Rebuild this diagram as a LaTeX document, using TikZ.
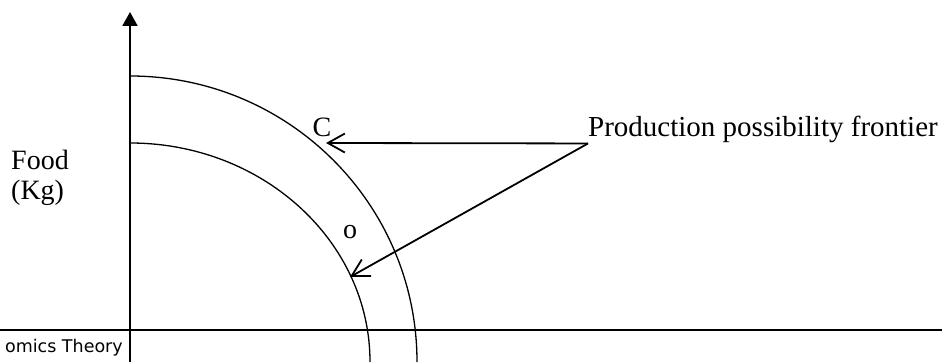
\documentclass[tikz,border=0pt]{standalone}
\usepackage{fontspec}
\setmainfont{Liberation Serif}
\newfontfamily\footerfont{DejaVu Sans}
\usetikzlibrary{arrows.meta}

\begin{document}
\begin{tikzpicture}[x=1pt,y=1pt,
  lbl/.style={font=\fontsize{28}{30}\selectfont,inner sep=0pt},
  axis/.style={line width=2pt},
  ppc/.style={line width=1.3pt},
  a/.style={-{Straight Barb[length=17pt,width=19pt]},line width=1.8pt}]
  \useasboundingbox (0,0) rectangle (942,362);
  % axes
  \coordinate (origin) at (130,0);
  \coordinate (top) at (130,350);
  \draw[axis] (0,32) -- (942,32);
  \draw[axis,-{Triangle[length=14pt,width=15pt]}] (origin) -- (top);
  % frontiers
  \draw[ppc] (130,286) arc[start angle=90,end angle=0,x radius=287,y radius=286];
  \draw[ppc] (130,219) arc[start angle=90,end angle=0,x radius=240,y radius=219];
  % labels
  \node[lbl] (c) at (322,235) {C};
  \node[lbl] (o) at (350,130) {o};
  \node[lbl,anchor=base west,align=left] (food) at (11,163) {Food\\(Kg)};
  \node[lbl,font=\fontsize{29}{30}\selectfont,anchor=base west] (ppf) at (588,225) {Production possibility frontier};
  \node[font=\footerfont\fontsize{17.5}{20}\selectfont,anchor=base east,inner sep=0pt] (src) at (123,10) {omics Theory};
  % pointers
  \coordinate (cTip) at (326,219);
  \coordinate (oTip) at (350,85);
  \draw[a] (ppf.south west) -- (cTip);
  \draw[a] (ppf.south west) -- (oTip);
\end{tikzpicture}
\end{document}
